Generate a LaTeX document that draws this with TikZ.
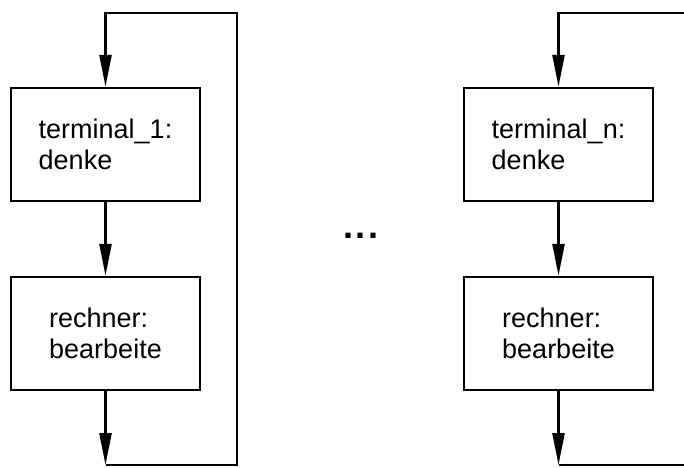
\documentclass[tikz,border=0pt]{standalone}
\usepackage{fontspec}
\setmainfont{Liberation Sans}
\usetikzlibrary{arrows.meta,positioning}

\begin{document}
\begin{tikzpicture}[x=1pt,y=-1pt,line width=2.5pt,
    task/.style={draw,minimum width=189pt,minimum height=113pt,align=left,
      font=\fontsize{27}{31}\selectfont},
    flow/.style={-{Triangle[length=32pt,width=12pt]}}]
  \useasboundingbox (0,0) rectangle (684,467);

  % terminal 1
  \node[task] (denk1) at (105.5,144.5) {terminal\_1:\\denke};
  \node[task,below=73.5pt of denk1] (rech1) {rechner:\\bearbeite};
  \coordinate (top1) at (denk1.north |- 0,13);
  \coordinate (bot1) at (rech1.south |- 0,465);
  \coordinate (ret1t) at (237,13);
  \coordinate (ret1b) at (237,465);

  \draw[flow] (denk1) -- (rech1);
  \draw[flow] (rech1) -- (bot1);
  \draw[flow] (bot1) -- (ret1b) -- (ret1t) -- (top1) -- (denk1);

  % dots between
  \node[font=\fontsize{36}{36}\selectfont\bfseries,anchor=base] (dots) at (361,238) {.\kern3pt.\kern3pt.};

  % terminal n
  \node[task] (denkn) at (558.5,144.5) {terminal\_n:\\denke};
  \node[task,below=73.5pt of denkn] (rechn) {rechner:\\bearbeite};
  \coordinate (topn) at (denkn.north |- 0,13);
  \coordinate (botn) at (rechn.south |- 0,465);
  \coordinate (retnt) at (690,13);
  \coordinate (retnb) at (690,465);

  \draw[flow] (denkn) -- (rechn);
  \draw[flow] (rechn) -- (botn);
  \draw (botn) -- (retnb);
  \draw[flow] (retnt) -- (topn) -- (denkn);
\end{tikzpicture}
\end{document}
